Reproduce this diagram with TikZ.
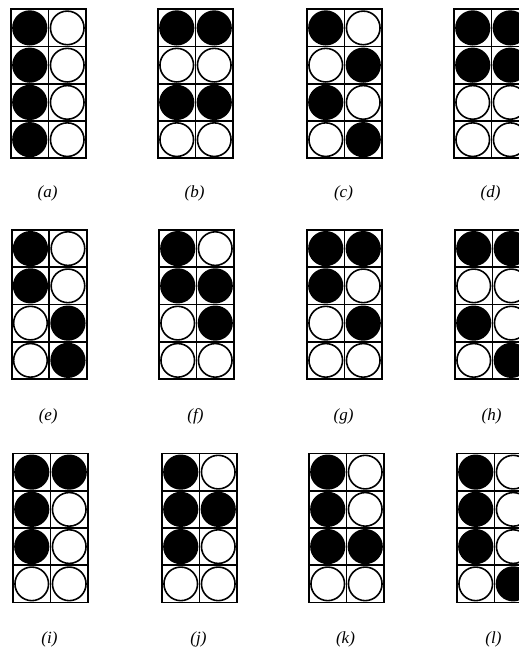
\documentclass[tikz,border=0pt]{standalone}
\usepackage{fontspec}
\setmainfont{Liberation Serif}
\newcommand\mypanel[5]{% #1 x, #2 y, #3 label letter, #4 label y, #5 pattern (8 values, row by row)
  \draw[gridline] (#1,#2) rectangle ++(75,149);
  \draw[gridline] (#1+37.5,#2) -- ++(0,149);
  \foreach \k in {1,2,3}{\draw[gridline] (#1,#2+37.25*\k) -- ++(75,0);}
  \foreach \v [count=\i from 0] in {#5}{%
    \pgfmathtruncatemacro\row{floor(\i/2)}%
    \pgfmathtruncatemacro\col{mod(\i,2)}%
    \ifnum\v=1
      \fill[blackdot] (#1+18.75+37.5*\col,#2+18.6+37.25*\row) circle (17.6);
    \else
      \draw[whitedot] (#1+18.75+37.5*\col,#2+18.6+37.25*\row) circle (16.8);
    \fi
  }
  \node[lab] (lab-#3) at (#1+36.5,#4) {\textit{(#3)}};
}
\begin{document}
\begin{tikzpicture}[x=1pt,y=-1pt,
  gridline/.style={line width=1.8pt,black},
  whitedot/.style={line width=1.6pt,black,fill=white},
  blackdot/.style={fill=black},
  lab/.style={font=\fontsize{17}{19}\selectfont,inner sep=0pt}]
\useasboundingbox (0,0) rectangle (519,649);
\clip (0,0) rectangle (519,649);
% row 1
\mypanel{11}{9.3}{a}{193}{1,0,1,0,1,0,1,0}
\mypanel{158}{9.3}{b}{193}{1,1,0,0,1,1,0,0}
\mypanel{307}{9.3}{c}{193}{1,0,0,1,1,0,0,1}
\mypanel{454}{9.3}{d}{193}{1,1,1,1,0,0,0,0}
% row 2
\mypanel{11.7}{230}{e}{416}{1,0,1,0,0,1,0,1}
\mypanel{159}{230}{f}{416}{1,0,1,1,0,1,0,0}
\mypanel{307}{230}{g}{416}{1,1,1,0,0,1,0,0}
\mypanel{455}{230}{h}{416}{1,1,0,0,1,0,0,1}
% row 3
\mypanel{13}{453.5}{i}{639}{1,1,1,0,1,0,0,0}
\mypanel{162}{453.5}{j}{639}{1,0,1,1,1,0,0,0}
\mypanel{309}{453.5}{k}{639}{1,0,1,0,1,1,0,0}
\mypanel{457}{453.5}{l}{639}{1,0,1,0,1,0,0,1}
\end{tikzpicture}
\end{document}
